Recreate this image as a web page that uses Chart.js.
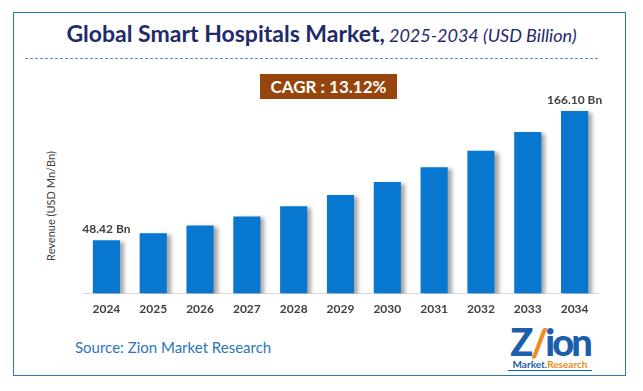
<!DOCTYPE html>
<html>
<head>
<meta charset="utf-8">
<script src="https://cdn.jsdelivr.net/npm/chart.js@4.4.0/dist/chart.umd.min.js"></script>
<style>
  body { margin: 0; background: #fff; width: 643px; height: 391px; position: relative; overflow: hidden; font-family: Lato, "Open Sans", sans-serif; }
  #frame { position: absolute; left: 13px; top: 12px; width: 611px; height: 362px; border: 1.5px solid #2e75b6; }
  #title { position: absolute; left: 0; top: 19px; width: 643px; text-align: center; color: #1f2a6b; white-space: nowrap; }
  #title b { font-size: 23px; }
  #title i { font-size: 18px; font-weight: normal; }
  #dash { position: absolute; left: 25px; top: 58px; width: 573px; border-top: 1px dashed #5b8fd0; }
  #cagr { position: absolute; left: 260px; top: 74px; width: 137px; height: 25px; background: #97450c; color: #fff; font-weight: bold; font-size: 17px; line-height: 25px; text-align: center; }
  #ytitle { position: absolute; left: 50px; top: 206px; transform: translate(-50%, -50%) rotate(-90deg); font-size: 11px; color: #404040; white-space: nowrap; }
  #source { position: absolute; left: 75px; top: 338px; font-size: 15px; color: #2e75b6; }
  #logo { position: absolute; left: 508px; top: 324px; width: 84px; text-align: center; }
  #logo .z { font-size: 38px; font-weight: 900; color: #1b5eab; line-height: 34px; letter-spacing: -3px; }
  #logo .z span { color: #f08a1c; }
  #logo .m { font-size: 10px; font-weight: bold; color: #1b5eab; border-bottom: 1px solid #1b5eab; line-height: 12px; }
  #logo .m span { color: #f08a1c; }
  #wrap { position: absolute; left: 60px; top: 90px; width: 560px; height: 237px; }
</style>
</head>
<body>
<div id="frame"></div>
<div id="title"><b>Global Smart Hospitals Market,</b> <i>2025-2034 (USD Billion)</i></div>
<div id="dash"></div>
<div id="cagr">CAGR : 13.12%</div>
<div id="ytitle">Revenue (USD Mn/Bn)</div>
<div id="source">Source: Zion Market Research</div>
<div id="logo"><div class="z">Z<span>/</span>ion</div><div class="m">Market.<span>Research</span></div></div>
<div id="wrap"><canvas id="chart"></canvas></div>
<script>
const years = ['2024', '2025', '2026', '2027', '2028', '2029', '2030', '2031', '2032', '2033', '2034'];
const revenue = [48.42, 54.8, 62.0, 70.1, 79.3, 89.7, 101.5, 114.8, 129.8, 146.9, 166.10];
const valueLabels = ['48.42 Bn', '', '', '', '', '', '', '', '', '', '166.10 Bn'];

const barShadow = {
  id: 'barShadow',
  beforeDatasetsDraw(chart) {
    const ctx = chart.ctx;
    ctx.save();
    ctx.shadowColor = 'rgba(0,0,0,0.35)';
    ctx.shadowOffsetX = 4;
    ctx.shadowOffsetY = 2;
    ctx.shadowBlur = 4;
  },
  afterDatasetsDraw(chart) {
    chart.ctx.restore();
    // labels over first and last bar
    const ctx = chart.ctx;
    const meta = chart.getDatasetMeta(0);
    ctx.save();
    ctx.font = 'bold 12px Lato, sans-serif';
    ctx.fillStyle = '#404040';
    ctx.textAlign = 'center';
    ctx.textBaseline = 'bottom';
    meta.data.forEach((bar, i) => {
      if (valueLabels[i]) ctx.fillText(valueLabels[i], bar.x, bar.y - 5);
    });
    ctx.restore();
  }
};

new Chart(document.getElementById('chart'), {
  type: 'bar',
  data: {
    labels: years,
    datasets: [{
      data: revenue,
      backgroundColor: '#0877cf',
      borderWidth: 0,
      categoryPercentage: 1,
      barPercentage: 0.58
    }]
  },
  options: {
    responsive: true,
    maintainAspectRatio: false,
    animation: false,
    layout: { padding: { left: 23, right: 22, top: 10, bottom: 3 } },
    plugins: { legend: { display: false }, tooltip: { enabled: false } },
    scales: {
      x: {
        grid: { display: false, drawTicks: false },
        border: { display: true, color: '#d9d9d9', width: 1 },
        ticks: { color: '#404040', padding: 8, font: { family: 'Lato', size: 12, weight: 'bold' } }
      },
      y: { display: false, min: 0, max: 176 }
    }
  },
  plugins: [barShadow]
});
</script>
</body>
</html>
